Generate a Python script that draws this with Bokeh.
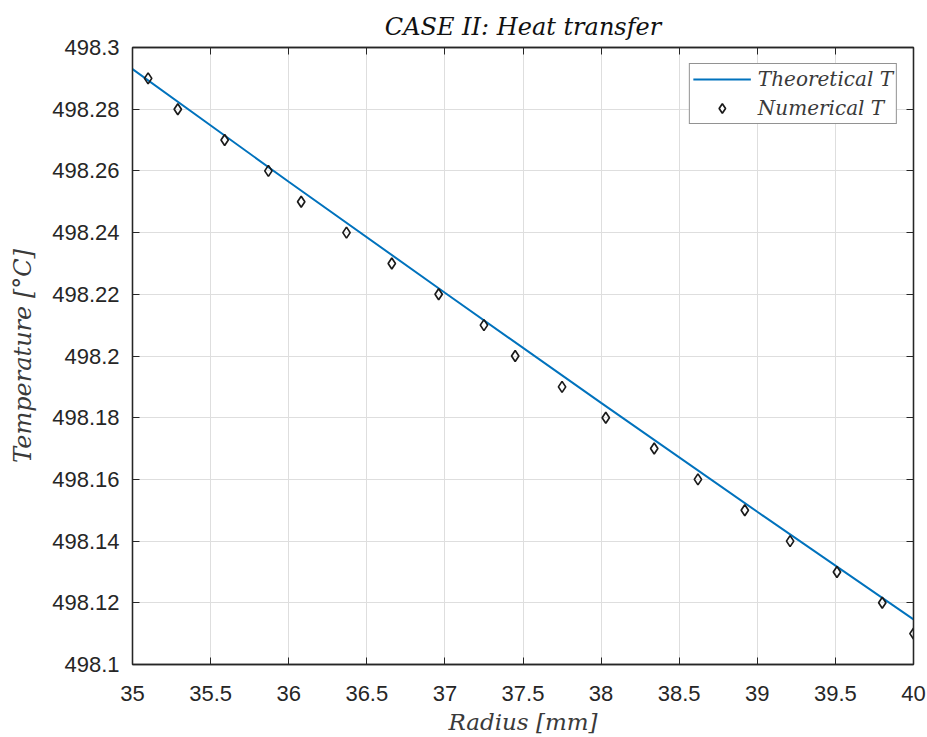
from bokeh.plotting import figure
from bokeh.models import (Range1d, LinearAxis, FixedTicker, NumeralTickFormatter,
                          CustomJSTickFormatter, Legend, LegendItem)
from bokeh.embed import file_html
from bokeh.resources import INLINE

# ---- data ----
r_theo = [35.0, 36.0, 37.0, 38.0, 39.0, 40.0]
T_theo = [498.293, 498.2565, 498.2205, 498.1848, 498.1495, 498.1146]

r_num = [35.10, 35.29, 35.59, 35.87, 36.08, 36.37, 36.66, 36.96, 37.25, 37.45,
         37.75, 38.03, 38.34, 38.62, 38.92, 39.21, 39.51, 39.80, 40.00]
T_num = [498.29, 498.28, 498.27, 498.26, 498.25, 498.24, 498.23, 498.22, 498.21, 498.20,
         498.19, 498.18, 498.17, 498.16, 498.15, 498.14, 498.13, 498.12, 498.11]

x_ticks = [35, 35.5, 36, 36.5, 37, 37.5, 38, 38.5, 39, 39.5, 40]
y_ticks = [498.1, 498.12, 498.14, 498.16, 498.18, 498.2, 498.22, 498.24, 498.26, 498.28, 498.3]

title_text = "CASE II: Heat transfer"
x_label = "Radius [mm]"
y_label = "Temperature [°C]"
series_names = ["Theoretical T", "Numerical T"]

AX = "#262626"
MATH_FONT = "DejaVu Serif"

p = figure(width=927, height=737, output_backend="svg", toolbar_location=None,
           x_range=Range1d(35, 40), y_range=Range1d(498.1, 498.3),
           min_border_left=132, min_border_right=14, min_border_top=47, min_border_bottom=73,
           x_axis_label=x_label, y_axis_label=y_label)

p.background_fill_color = "white"
p.border_fill_color = "white"
p.outline_line_color = AX
p.outline_line_width = 1.3

p.title.text = title_text
p.title.align = "center"
p.title.text_font = MATH_FONT
p.title.text_font_style = "italic"
p.title.text_font_size = "24px"
p.title.text_color = "#111111"
p.title.standoff = 13

for ax in (p.xaxis[0], p.yaxis[0]):
    ax.major_label_text_font = "Liberation Sans"
    ax.major_label_text_font_size = "22px"
    ax.major_label_text_color = AX
    ax.axis_line_color = AX
    ax.axis_line_width = 1.3
    ax.major_tick_line_color = AX
    ax.major_tick_in = 7
    ax.major_tick_out = 0
    ax.minor_tick_in = 0
    ax.minor_tick_out = 0
    ax.axis_label_text_font = MATH_FONT
    ax.axis_label_text_font_style = "italic"
    ax.axis_label_text_color = "#3a3a3a"

p.xaxis[0].axis_label_text_font_size = "23px"
p.yaxis[0].axis_label_text_font_size = "24px"
p.xaxis[0].ticker = FixedTicker(ticks=x_ticks)
p.yaxis[0].ticker = FixedTicker(ticks=y_ticks)
p.xaxis[0].formatter = NumeralTickFormatter(format="0.[0]")
p.yaxis[0].formatter = NumeralTickFormatter(format="0.[00]")
p.xaxis[0].major_label_standoff = 21
p.xaxis[0].axis_label_standoff = 5
p.yaxis[0].major_label_standoff = 13
p.yaxis[0].axis_label_standoff = 12

# box ticks on top and right (no labels)
blank = CustomJSTickFormatter(code="return ''")
top_ax = LinearAxis(ticker=FixedTicker(ticks=x_ticks), formatter=blank,
                    major_label_standoff=0, major_tick_in=7, major_tick_out=0,
                    minor_tick_in=0, minor_tick_out=0, axis_line_color=AX,
                    axis_line_width=1.3, major_tick_line_color=AX)
right_ax = LinearAxis(ticker=FixedTicker(ticks=y_ticks), formatter=blank,
                      major_label_standoff=0, major_tick_in=7, major_tick_out=0,
                      minor_tick_in=0, minor_tick_out=0, axis_line_color=AX,
                      axis_line_width=1.3, major_tick_line_color=AX)
p.add_layout(top_ax, "above")
p.add_layout(right_ax, "right")

p.xgrid.ticker = FixedTicker(ticks=x_ticks)
p.ygrid.ticker = FixedTicker(ticks=y_ticks)
p.grid.grid_line_color = "#dedede"
p.grid.grid_line_width = 1

line_r = p.line(r_theo, T_theo, line_color="#0072BD", line_width=2)
sc_r = p.scatter(r_num, T_num, marker="diamond", size=11, fill_color=None,
                 line_color="#1a1a1a", line_width=1.7)

legend = Legend(items=[LegendItem(label=series_names[0], renderers=[line_r]),
                       LegendItem(label=series_names[1], renderers=[sc_r])],
                location="top_right")
legend.glyph_width = 58
legend.glyph_height = 24
legend.label_height = 24
legend.label_text_font = MATH_FONT
legend.label_text_font_style = "italic"
legend.label_text_font_size = "20px"
legend.label_text_color = "#3a3a3a"
legend.border_line_color = AX
legend.border_line_width = 1
legend.background_fill_color = "white"
legend.background_fill_alpha = 1
legend.margin = 16
legend.padding = 3
legend.spacing = 5
legend.label_standoff = 7
p.add_layout(legend)

open("out.html", "w").write(file_html(p, INLINE))
